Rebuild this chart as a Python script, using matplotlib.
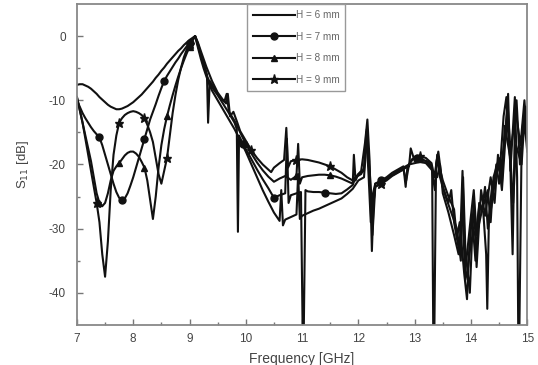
import numpy as np
import matplotlib
matplotlib.use('Agg')
import matplotlib.pyplot as plt

plt.rcParams['font.family'] = 'Liberation Sans'
plt.rcParams['axes.unicode_minus'] = False

# shared grid for the smooth part below the 9.1 GHz peak
freq_lo = [7.00, 7.05, 7.10, 7.15, 7.20, 7.25, 7.30, 7.35, 7.40, 7.45, 7.50,
           7.55, 7.60, 7.65, 7.70, 7.75, 7.80, 7.85, 7.90, 7.95, 8.00, 8.05,
           8.10, 8.15, 8.20, 8.25, 8.30, 8.35, 8.40, 8.45, 8.50, 8.55, 8.60,
           8.65, 8.70, 8.75, 8.80, 8.85, 8.90, 8.95, 9.00, 9.05, 9.10]

s6_lo = [-7.6, -7.5, -7.5, -7.7, -7.9, -8.2, -8.6, -9.0, -9.5, -9.9, -10.3,
         -10.7, -11.0, -11.2, -11.4, -11.4, -11.3, -11.1, -10.9, -10.6, -10.3,
         -9.9, -9.5, -9.1, -8.6, -8.1, -7.6, -7.1, -6.5, -6.0, -5.4, -4.9,
         -4.3, -3.8, -3.3, -2.8, -2.3, -1.9, -1.4, -1.0, -0.6, -0.3, 0.0]
s7_lo = [-10.0, -11.0, -12.0, -12.8, -13.5, -14.2, -14.8, -15.3, -15.8, -17.0,
         -18.5, -20.0, -21.5, -23.0, -24.3, -25.2, -25.5, -25.3, -24.5, -23.3,
         -22.0, -20.5, -19.0, -17.5, -16.0, -14.5, -13.0, -11.8, -10.6, -9.3,
         -8.1, -7.0, -6.2, -5.5, -4.8, -4.1, -3.5, -2.8, -2.2, -1.6, -1.0,
         -0.5, 0.0]
s8_lo = [-9.5, -11.5, -13.5, -15.5, -17.5, -19.5, -22.0, -24.5, -26.0, -26.5,
         -26.0, -24.5, -22.5, -21.0, -20.3, -19.8, -19.2, -18.6, -18.2, -18.0,
         -18.0, -18.3, -18.8, -19.6, -20.5, -22.5, -25.5, -28.5, -25.0, -20.5,
         -17.0, -14.5, -12.5, -10.8, -9.2, -7.7, -6.3, -5.0, -3.8, -2.7, -1.7,
         -0.8, 0.0]
s9_lo = [-9.5, -11.5, -13.5, -16.0, -18.5, -21.0, -23.5, -26.0, -29.0, -34.0,
         -37.5, -32.0, -24.0, -18.5, -15.5, -13.5, -12.8, -12.3, -12.0, -11.8,
         -11.7, -11.8, -12.0, -12.3, -12.8, -13.8, -15.0, -16.5, -19.0, -21.5,
         -23.0, -21.0, -19.0, -15.5, -12.0, -9.2, -6.8, -4.9, -3.3, -2.1,
         -1.2, -0.5, 0.0]

# noisy part above the peak, one grid per curve
f6_hi = [9.15, 9.2, 9.25, 9.3, 9.35, 9.4, 9.5, 9.6, 9.7, 9.8, 9.9, 10.0, 10.1,
         10.2, 10.3, 10.4, 10.5, 10.6, 10.63, 10.66, 10.7, 10.8, 10.9, 10.93,
         10.96, 11.0, 11.1, 11.2, 11.3, 11.4, 11.5, 11.6, 11.7, 11.8, 11.9,
         12.0, 12.1, 12.15, 12.2, 12.25, 12.3, 12.4, 12.5, 12.6, 12.7, 12.8,
         12.9, 13.0, 13.1, 13.2, 13.3, 13.4, 13.45, 13.5, 13.6, 13.7, 13.78,
         13.85, 13.9, 13.95, 14.0, 14.1, 14.15, 14.2, 14.3, 14.35, 14.4, 14.5,
         14.55, 14.6, 14.7, 14.75, 14.8, 14.9, 14.95, 15.0]
s6_hi = [-1.8, -3.5, -5.0, -6.3, -7.5, -8.5, -10.0, -11.5, -13.0, -14.5, -16.2,
         -18.0, -20.0, -22.0, -24.0, -25.8, -27.5, -28.8, -24.0, -29.5, -28.6,
         -28.2, -27.8, -21.5, -28.5, -28.0, -27.6, -27.2, -26.9, -26.5, -26.1,
         -25.7, -25.3, -24.6, -23.8, -22.5, -22.0, -16.0, -21.0, -27.5, -23.5,
         -22.8, -22.2, -21.6, -21.0, -20.5, -20.0, -19.8, -19.6, -19.8, -20.8,
         -22.0, -20.0, -24.5, -27.5, -31.0, -34.0, -27.0, -38.0, -36.0, -32.0,
         -30.0, -26.0, -27.0, -24.0, -29.0, -22.0, -19.0, -23.0, -14.0, -19.0,
         -26.0, -17.0, -20.0, -13.0, -18.0]

f7_hi = [9.15, 9.2, 9.3, 9.4, 9.5, 9.6, 9.7, 9.8, 9.84, 9.86, 9.88, 9.95, 10.0,
         10.1, 10.2, 10.3, 10.4, 10.5, 10.6, 10.7, 10.73, 10.76, 10.8, 10.9,
         10.98, 11.01, 11.03, 11.06, 11.1, 11.2, 11.3, 11.4, 11.5, 11.6, 11.7,
         11.8, 11.9, 11.95, 12.05, 12.12, 12.16, 12.2, 12.24, 12.27, 12.3,
         12.4, 12.5, 12.6, 12.7, 12.8, 12.84, 12.87, 12.95, 13.05, 13.15,
         13.25, 13.31, 13.33, 13.35, 13.38, 13.42, 13.5, 13.6, 13.65, 13.7,
         13.8, 13.85, 13.9, 14.0, 14.05, 14.1, 14.2, 14.25, 14.3, 14.4, 14.45,
         14.5, 14.6, 14.65, 14.7, 14.8, 14.88, 14.95, 15.0]
s7_hi = [-1.5, -3.0, -6.0, -8.0, -9.2, -10.6, -12.0, -13.5, -14.5, -30.5, -15.5,
         -16.8, -17.6, -19.2, -20.8, -22.3, -23.7, -25.2, -24.8, -24.5, -16.0,
         -26.0, -24.8, -24.5, -24.3, -46.0, -46.0, -24.0, -24.2, -24.3, -24.3,
         -24.4, -24.5, -24.6, -24.5, -23.9, -23.2, -22.0, -21.0, -16.5, -13.0,
         -19.5, -33.5, -26.0, -23.0, -22.5, -22.0, -21.3, -20.8, -20.3, -23.5,
         -20.5, -19.2, -19.0, -19.3, -19.6, -20.5, -46.0, -46.0, -20.0, -18.0,
         -23.5, -26.0, -24.0, -29.0, -34.0, -21.0, -36.5, -28.0, -24.0, -31.0,
         -27.0, -23.5, -30.0, -24.5, -20.0, -23.0, -16.0, -10.5, -18.0, -12.0,
         -17.0, -10.0, -16.0]

f8_hi = [9.15, 9.2, 9.28, 9.31, 9.33, 9.36, 9.45, 9.55, 9.62, 9.66, 9.7, 9.8,
         9.9, 10.0, 10.1, 10.2, 10.3, 10.4, 10.5, 10.6, 10.7, 10.8, 10.9, 10.93,
         10.96, 11.0, 11.1, 11.2, 11.3, 11.4, 11.5, 11.6, 11.7, 11.8, 11.9,
         11.92, 11.95, 12.0, 12.1, 12.14, 12.18, 12.22, 12.26, 12.3, 12.4, 12.5,
         12.6, 12.7, 12.8, 12.9, 12.93, 13.0, 13.1, 13.2, 13.3, 13.36, 13.4,
         13.45, 13.55, 13.65, 13.75, 13.82, 13.86, 13.9, 13.98, 14.05, 14.1,
         14.18, 14.25, 14.35, 14.42, 14.48, 14.55, 14.62, 14.66, 14.7, 14.78,
         14.82, 14.84, 14.86, 14.9, 14.96, 15.0]
s8_hi = [-1.2, -2.7, -5.0, -6.0, -13.5, -7.0, -8.3, -9.6, -10.2, -9.0, -11.8,
         -13.2, -15.0, -16.8, -18.3, -19.7, -20.9, -21.9, -22.7, -22.2, -21.8,
         -22.4, -21.8, -16.8, -23.0, -22.0, -21.8, -21.7, -21.6, -21.6, -21.7,
         -21.9, -22.2, -22.6, -23.0, -18.5, -22.5, -21.5, -21.0, -15.0, -21.5,
         -29.0, -24.5, -23.0, -22.7, -22.2, -21.7, -21.2, -20.7, -20.3, -17.5,
         -19.5, -19.2, -19.5, -20.5, -24.0, -18.5, -22.0, -25.0, -27.5, -30.0,
         -35.0, -22.0, -33.0, -40.0, -25.0, -36.0, -24.0, -28.0, -22.0, -26.0,
         -18.5, -24.0, -15.0, -9.0, -21.0, -9.5, -22.0, -46.0, -46.0, -17.0,
         -12.0, -17.0]

f9_hi = [9.15, 9.2, 9.3, 9.4, 9.5, 9.6, 9.65, 9.68, 9.72, 9.78, 9.85, 9.9, 10.0,
         10.1, 10.2, 10.3, 10.4, 10.45, 10.5, 10.6, 10.68, 10.72, 10.75, 10.8,
         10.9, 11.0, 11.1, 11.2, 11.3, 11.4, 11.5, 11.6, 11.7, 11.8, 11.9,
         11.95, 12.05, 12.1, 12.15, 12.2, 12.25, 12.3, 12.4, 12.5, 12.6, 12.7,
         12.8, 12.85, 12.9, 13.0, 13.1, 13.2, 13.3, 13.35, 13.4, 13.5, 13.6,
         13.7, 13.75, 13.8, 13.88, 13.93, 13.97, 14.02, 14.08, 14.15, 14.22,
         14.27, 14.29, 14.32, 14.38, 14.45, 14.52, 14.58, 14.63, 14.66, 14.7,
         14.74, 14.78, 14.81, 14.87, 14.92, 14.97, 15.0]
s9_hi = [-1.0, -2.3, -4.8, -7.0, -8.8, -10.0, -10.5, -9.0, -12.5, -11.8, -13.5,
         -14.8, -16.3, -17.8, -19.0, -20.0, -20.8, -21.2, -20.5, -19.8, -19.3,
         -14.3, -20.5, -19.5, -19.3, -19.2, -19.3, -19.5, -19.7, -20.0, -20.3,
         -20.8, -21.3, -22.0, -22.5, -22.0, -21.5, -20.5, -14.5, -22.0, -31.0,
         -23.5, -23.0, -22.5, -21.8, -21.3, -20.8, -22.5, -20.0, -18.8, -18.7,
         -19.0, -19.8, -22.0, -19.0, -22.5, -25.0, -27.0, -31.5, -29.0, -37.0,
         -41.0, -33.0, -28.0, -35.0, -26.0, -27.5, -34.0, -42.5, -28.0, -23.0,
         -21.5, -20.0, -12.5, -9.5, -15.0, -20.0, -34.0, -14.0, -10.0, -20.0,
         -14.0, -11.0, -14.0]

labels = ['H = 6 mm', 'H = 7 mm', 'H = 8 mm', 'H = 9 mm']
markers = [None, 'o', '^', '*']
# frequencies where the symbols sit
mark_f = [[],
          [7.40, 7.80, 8.20, 8.55, 9.00, 9.95, 10.50, 11.40, 12.40, 13.05],
          [7.40, 7.75, 8.20, 8.60, 9.00, 10.00, 10.90, 11.50, 12.40, 13.10],
          [7.35, 7.75, 8.20, 8.60, 9.00, 10.10, 10.90, 11.50, 12.40, 13.10]]

series = [(freq_lo + f6_hi, s6_lo + s6_hi),
          (freq_lo + f7_hi, s7_lo + s7_hi),
          (freq_lo + f8_hi, s8_lo + s8_hi),
          (freq_lo + f9_hi, s9_lo + s9_hi)]

fig = plt.figure(figsize=(5.38, 3.65), dpi=100)
ax = fig.add_axes([0.143, 0.11, 0.837, 0.879])

for (f, s), lab, m, mf in zip(series, labels, markers, mark_f):
    idx = [int(np.argmin(np.abs(np.array(f) - v))) for v in mf]
    ax.plot(f, s, color='#111111', lw=1.5, marker=m,
            markersize=5 if m != '*' else 6.5, markevery=idx or None,
            label=lab)

ax.set_xlim(7, 15)
ax.set_ylim(-45, 5)
ax.set_xticks(np.arange(7, 16, 1))
ax.set_xticks(np.arange(7.5, 15, 1), minor=True)
ax.set_yticks([0, -10, -20, -30, -40])
ax.set_yticks([-5, -15, -25, -35], minor=True)
ax.tick_params(which='both', direction='in', colors='#777777',
               labelcolor='#444444', labelsize=8.5, width=1)
ax.tick_params(axis='x', pad=6)
ax.tick_params(axis='y', pad=8)
ax.tick_params(which='major', length=4)
ax.tick_params(which='minor', length=2.5)
for sp in ax.spines.values():
    sp.set_color('#888888')
    sp.set_linewidth(1.3)

ax.set_ylabel('S$_{11}$ [dB]', fontsize=9.5, color='#444444', labelpad=13)
ax.set_xlabel('Frequency [GHz]', fontsize=10, color='#444444', labelpad=5)

leg = ax.legend(loc='upper left', bbox_to_anchor=(0.378, 1.0), fontsize=7.2,
                handlelength=4.2, handletextpad=0.05, borderpad=0.6,
                labelspacing=1.15, fancybox=False, framealpha=1,
                edgecolor='#999999', borderaxespad=0)
for t in leg.get_texts():
    t.set_color('#666666')

fig.savefig('out.png', dpi=100)
